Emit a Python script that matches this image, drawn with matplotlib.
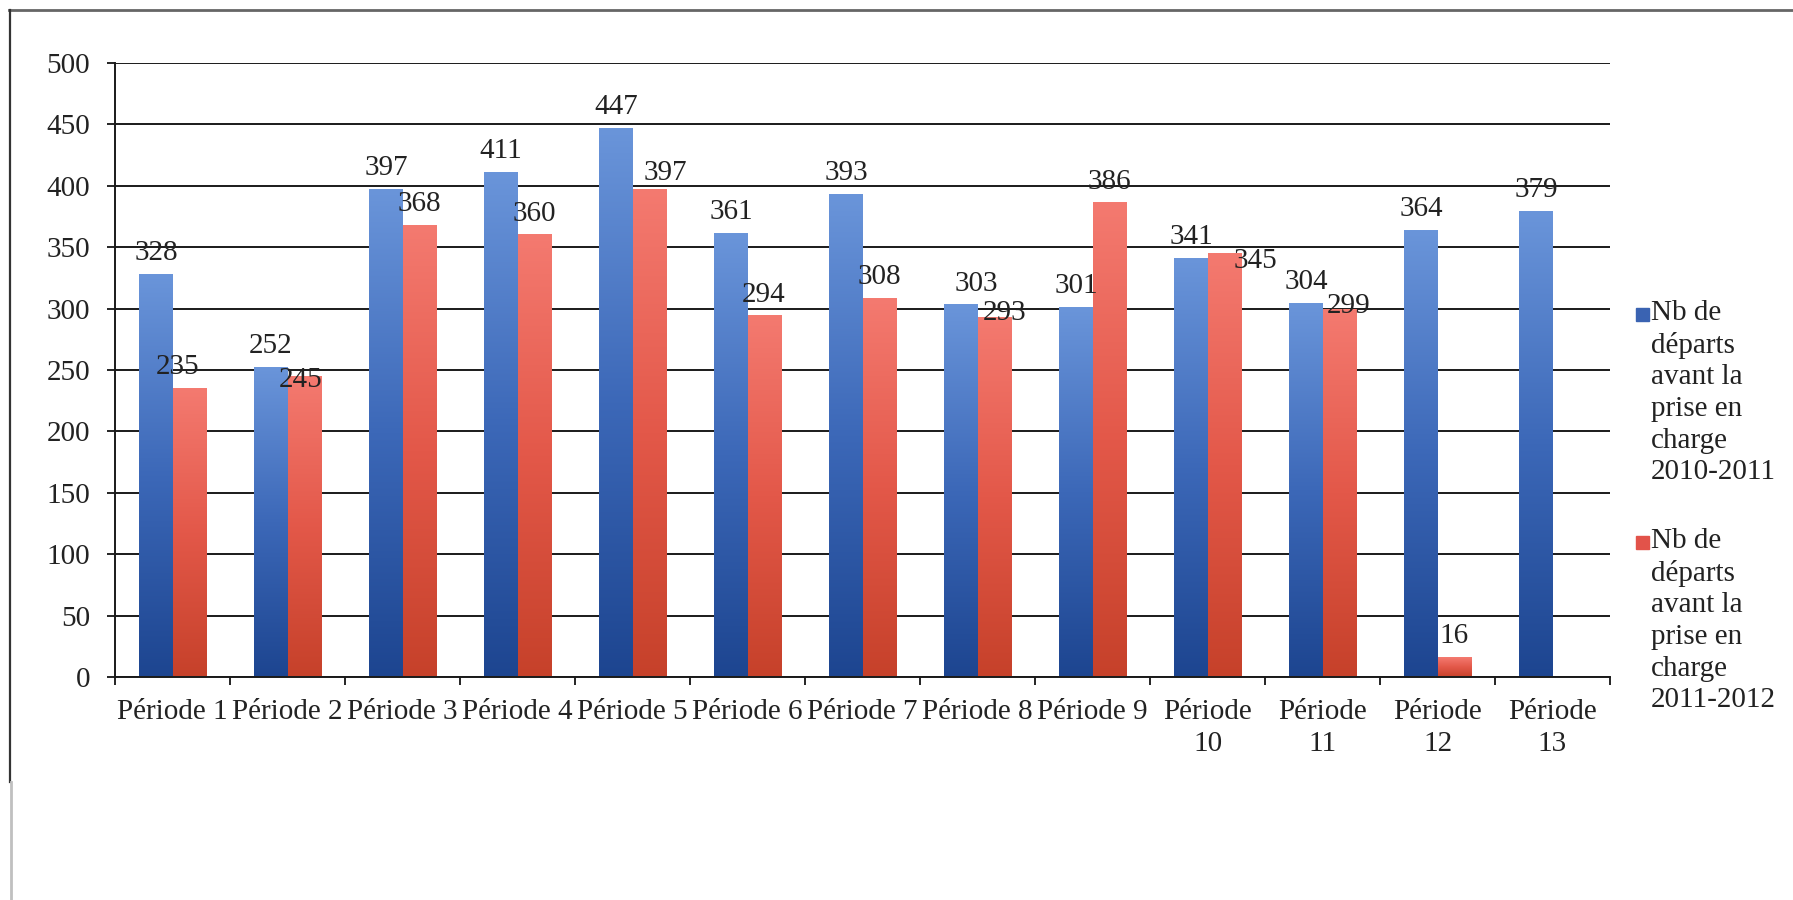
import numpy as np
import matplotlib
matplotlib.use("Agg")
import matplotlib.pyplot as plt
from matplotlib.colors import LinearSegmentedColormap
from matplotlib.lines import Line2D
from matplotlib.patches import Rectangle

PERIODS = ["Période 1", "Période 2", "Période 3", "Période 4", "Période 5",
           "Période 6", "Période 7", "Période 8", "Période 9", "Période\n10",
           "Période\n11", "Période\n12", "Période\n13"]
DEPARTS_2010_2011 = [328, 252, 397, 411, 447, 361, 393, 303, 301, 341, 304, 364, 379]
DEPARTS_2011_2012 = [235, 245, 368, 360, 397, 294, 308, 293, 386, 345, 299, 16, None]
SERIES_LABELS = [
    "Nb de\ndéparts\navant la\nprise en\ncharge\n2010-2011",
    "Nb de\ndéparts\navant la\nprise en\ncharge\n2011-2012",
]
Y_TICKS = [0, 50, 100, 150, 200, 250, 300, 350, 400, 450, 500]

BLUE = LinearSegmentedColormap.from_list("blue", ["#1d4590", "#3c68b8", "#6a95da"])
RED = LinearSegmentedColormap.from_list("red", ["#c6412a", "#e35849", "#f47a70"])
LEGEND_COLORS = ["#3a63b2", "#e2534a"]

# hand-placed value labels: (series, period index) -> (dx, dy) in pixels, dy downwards
LABEL_NUDGE = {
    (1, 0): (-11, 0), (1, 1): (-3, 25), (1, 4): (16, 5), (0, 7): (15, 0),
    (1, 7): (11, 17), (1, 9): (31, 29), (1, 10): (10, 18),
}

plt.rcParams["font.family"] = ["Liberation Serif", "DejaVu Serif"]
FS = 21
TEXT = "#222222"
W, H = 1793, 900
PX = 0.72  # points per pixel at 100 dpi


def fx(px):
    return px / W


def fy(py):
    return 1 - py / H


fig = plt.figure(figsize=(W / 100, H / 100), dpi=100)
ax = fig.add_axes([fx(115), fy(677), fx(1610) - fx(115), fy(63) - fy(677)])

x = np.arange(len(PERIODS))
width = 0.287
grad = np.linspace(0, 1, 256).reshape(-1, 1)
pad = 6

for s, (values, offset, cmap) in enumerate([(DEPARTS_2010_2011, -width / 2, BLUE),
                                            (DEPARTS_2011_2012, width / 2, RED)]):
    idx = [i for i, v in enumerate(values) if v is not None]
    xs = [x[i] + offset for i in idx]
    vs = [values[i] for i in idx]
    bars = ax.bar(xs, vs, width, color="none", edgecolor="none", zorder=2)
    # vertical gradient fill for each bar, light at the top
    for b in bars:
        x0, y0 = b.get_x(), b.get_y()
        ax.imshow(grad, extent=[x0, x0 + b.get_width(), y0, y0 + b.get_height()],
                  origin="lower", aspect="auto", cmap=cmap, zorder=2,
                  interpolation="bilinear")
    anns = ax.bar_label(bars, labels=[str(v) for v in vs], padding=pad, fontsize=FS,
                        color=TEXT, zorder=3)
    for i, ann in zip(idx, anns):
        dx, dy = LABEL_NUDGE.get((s, i), (0, 0))
        ann.xyann = (dx * PX, pad - dy * PX)

ax.set_xlim(-0.5, len(PERIODS) - 0.5)
ax.set_ylim(0, 500)
ax.set_yticks(Y_TICKS)
ax.set_xticks(x)
ax.set_xticklabels(PERIODS, fontsize=FS, linespacing=1.3)
ax.set_xticks(np.arange(len(PERIODS) + 1) - 0.5, minor=True)
ax.tick_params(axis="x", which="major", length=0, pad=16)
ax.tick_params(axis="x", which="minor", length=6, width=1.2, direction="out")
ax.tick_params(axis="y", length=6, width=1.2, pad=12, labelsize=FS)
for lab in ax.get_yticklabels() + ax.get_xticklabels():
    lab.set_color(TEXT)

ax.grid(axis="y", color="#1a1a1a", linewidth=1.4, zorder=1)
ax.set_axisbelow(True)
for side in ["top", "right"]:
    ax.spines[side].set_visible(False)
for side in ["left", "bottom"]:
    ax.spines[side].set_linewidth(1.4)
    ax.spines[side].set_color("#1a1a1a")

# legend on the right, handle aligned with the first text line
entry_top = [300, 528]
for top, label, color in zip(entry_top, SERIES_LABELS, LEGEND_COLORS):
    fig.patches.append(Rectangle((fx(1636), fy(top + 21)), fx(13), 13 / H,
                                 transform=fig.transFigure, color=color))
    fig.text(fx(1651), fy(top), label, fontsize=FS, va="top", ha="left",
             linespacing=1.28, color=TEXT)

# outer frame
fig.add_artist(Line2D([fx(9), 1], [fy(10), fy(10)], color="#666666", lw=2,
                      transform=fig.transFigure))
fig.add_artist(Line2D([fx(10), fx(10)], [fy(10), fy(782)], color="#333333", lw=1.6,
                      transform=fig.transFigure))
fig.add_artist(Line2D([fx(11), fx(11)], [fy(782), 0], color="#c0c0c0", lw=2,
                      transform=fig.transFigure))

fig.savefig("out.png", dpi=100)
